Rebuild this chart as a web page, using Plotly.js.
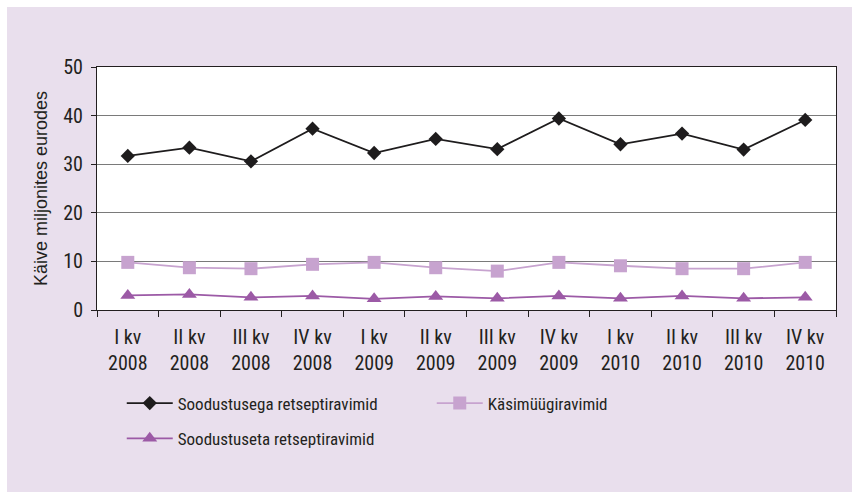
<!DOCTYPE html>
<html>
<head>
<meta charset="utf-8">
<script src="https://cdn.plot.ly/plotly-3.0.1.min.js"></script>
<style>
html,body{margin:0;padding:0;background:#ffffff;}
#chart{position:absolute;left:7px;top:7px;width:845px;height:485px;}
</style>
</head>
<body>
<div id="chart"></div>
<script>
const quarters = ["I kv<br>2008","II kv<br>2008","III kv<br>2008","IV kv<br>2008",
                  "I kv<br>2009","II kv<br>2009","III kv<br>2009","IV kv<br>2009",
                  "I kv<br>2010","II kv<br>2010","III kv<br>2010","IV kv<br>2010"];
const soodustusega = [31.7,33.4,30.6,37.3,32.3,35.2,33.1,39.4,34.1,36.3,33.0,39.1];
const kasimyygi    = [9.8,8.7,8.5,9.4,9.8,8.7,8.0,9.8,9.1,8.5,8.5,9.8];
const soodustuseta = [3.0,3.2,2.6,2.9,2.3,2.8,2.4,2.9,2.4,2.9,2.4,2.6];

const narrow = 'Roboto Condensed, Liberation Sans, Arial, sans-serif';
const txt = '#231f20';

const traces = [
  {x: quarters, y: soodustusega, name: 'Soodustusega retseptiravimid', type: 'scatter', mode: 'lines+markers',
   line: {color: '#1e1c1d', width: 1.8}, marker: {symbol: 'diamond', size: 11, color: '#1e1c1d'}, legend: 'legend'},
  {x: quarters, y: kasimyygi, name: 'Käsimüügiravimid', type: 'scatter', mode: 'lines+markers',
   line: {color: '#c7a3cf', width: 1.8}, marker: {symbol: 'square', size: 13, color: '#c7a3cf'}, legend: 'legend'},
  {x: quarters, y: soodustuseta, name: 'Soodustuseta retseptiravimid', type: 'scatter', mode: 'lines+markers',
   line: {color: '#9c5aa6', width: 1.8}, marker: {symbol: 'triangle-up', size: 13, color: '#9c5aa6'}, legend: 'legend2'}
];

const layout = {
  width: 845, height: 485,
  paper_bgcolor: '#e9dfed', plot_bgcolor: '#ffffff',
  margin: {l: 90, r: 16, t: 60, b: 182},
  font: {family: narrow, size: 20, color: txt},
  xaxis: {
    type: 'category', range: [-0.5, 11.5], tickson: 'boundaries',
    ticks: 'outside', ticklen: 6, tickcolor: txt, tickwidth: 1,
    showline: true, linecolor: txt, linewidth: 1, mirror: true, ticklabelstandoff: 9,
    showgrid: false, tickfont: {family: narrow, size: 20, color: txt}, fixedrange: true
  },
  yaxis: {
    range: [0, 50], dtick: 10, ticks: 'outside', ticklen: 5, tickcolor: txt,
    showline: true, linecolor: txt, linewidth: 1, mirror: true, ticklabelstandoff: 4,
    showgrid: true, gridcolor: '#7a7a7a', gridwidth: 1, zeroline: false,
    tickfont: {family: narrow, size: 20, color: txt},
    title: {text: 'Käive miljonites eurodes', font: {family: 'Liberation Sans, Arial, sans-serif', size: 18, color: txt}, standoff: 10}
  },
  legend: {
    orientation: 'h', x: 0.0335, xanchor: 'left', y: -0.385, yanchor: 'middle',
    bgcolor: 'rgba(0,0,0,0)', font: {family: narrow, size: 17, color: txt},
    itemwidth: 46, entrywidth: 249, entrywidthmode: 'pixels', traceorder: 'normal'
  },
  legend2: {
    orientation: 'h', x: 0.0335, xanchor: 'left', y: -0.53, yanchor: 'middle',
    bgcolor: 'rgba(0,0,0,0)', font: {family: narrow, size: 17, color: txt},
    itemwidth: 46
  },
  showlegend: true
};

Plotly.newPlot('chart', traces, layout, {displayModeBar: false, staticPlot: true});
</script>
</body>
</html>
